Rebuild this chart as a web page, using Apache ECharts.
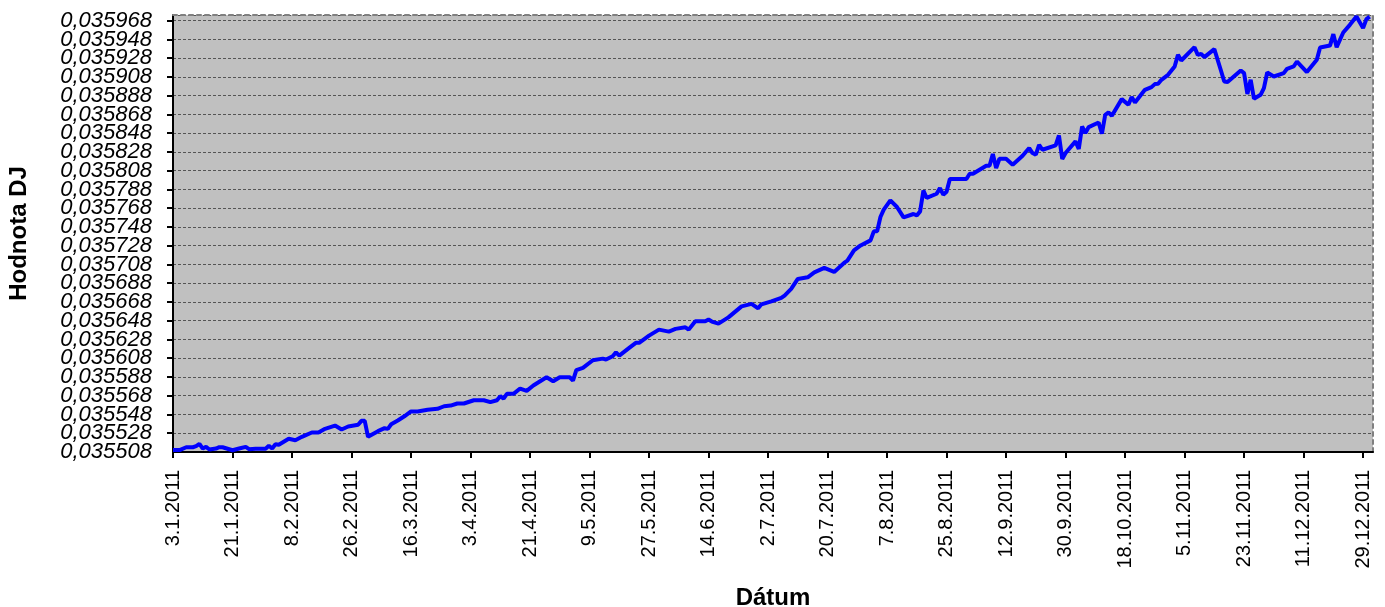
<!DOCTYPE html>
<html>
<head>
<meta charset="utf-8">
<script src="https://cdn.jsdelivr.net/npm/echarts@6/dist/echarts.min.js"></script>
<style>
html,body{margin:0;padding:0;background:#fff;}
#chart{width:1385px;height:607px;}
</style>
</head>
<body>
<div id="chart"></div>
<script>
// ---- data ----
const dates = [
 "3.1.2011","5.1.2011","7.1.2011","9.1.2011","10.1.2011","11.1.2011","12.1.2011","13.1.2011","14.1.2011","16.1.2011",
 "17.1.2011","18.1.2011","21.1.2011","23.1.2011","25.1.2011","26.1.2011","28.1.2011","31.1.2011","1.2.2011","2.2.2011",
 "3.2.2011","4.2.2011","7.2.2011","9.2.2011","11.2.2011","14.2.2011","16.2.2011","18.2.2011","21.2.2011","23.2.2011",
 "25.2.2011","28.2.2011","1.3.2011","2.3.2011","3.3.2011","6.3.2011","8.3.2011","9.3.2011","10.3.2011","12.3.2011",
 "14.3.2011","16.3.2011","18.3.2011","21.3.2011","24.3.2011","26.3.2011","28.3.2011","30.3.2011","1.4.2011","4.4.2011",
 "7.4.2011","9.4.2011","11.4.2011","12.4.2011","13.4.2011","14.4.2011","16.4.2011","18.4.2011","20.4.2011","22.4.2011",
 "26.4.2011","28.4.2011","30.4.2011","3.5.2011","4.5.2011","5.5.2011","7.5.2011","10.5.2011","13.5.2011","14.5.2011",
 "16.5.2011","17.5.2011","18.5.2011","21.5.2011","23.5.2011","24.5.2011","27.5.2011","30.5.2011","2.6.2011","4.6.2011",
 "7.6.2011","8.6.2011","10.6.2011","13.6.2011","14.6.2011","15.6.2011","17.6.2011","20.6.2011","24.6.2011","27.6.2011",
 "29.6.2011","30.6.2011","3.7.2011","6.7.2011","7.7.2011","9.7.2011","11.7.2011","14.7.2011","16.7.2011","19.7.2011",
 "22.7.2011","25.7.2011","26.7.2011","28.7.2011","30.7.2011","2.8.2011","3.8.2011","4.8.2011","5.8.2011","6.8.2011",
 "8.8.2011","10.8.2011","12.8.2011","15.8.2011","16.8.2011","17.8.2011","18.8.2011","19.8.2011","22.8.2011","23.8.2011",
 "24.8.2011","25.8.2011","26.8.2011","31.8.2011","1.9.2011","2.9.2011","6.9.2011","7.9.2011","8.9.2011","9.9.2011",
 "10.9.2011","12.9.2011","14.9.2011","17.9.2011","19.9.2011","20.9.2011","21.9.2011","22.9.2011","23.9.2011","27.9.2011",
 "28.9.2011","29.9.2011","30.9.2011","3.10.2011","4.10.2011","5.10.2011","6.10.2011","7.10.2011","10.10.2011","11.10.2011",
 "12.10.2011","13.10.2011","14.10.2011","17.10.2011","19.10.2011","20.10.2011","21.10.2011","24.10.2011","26.10.2011","27.10.2011",
 "28.10.2011","29.10.2011","31.10.2011","2.11.2011","3.11.2011","4.11.2011","8.11.2011","9.11.2011","10.11.2011","11.11.2011",
 "14.11.2011","16.11.2011","17.11.2011","18.11.2011","22.11.2011","23.11.2011","24.11.2011","25.11.2011","26.11.2011","28.11.2011",
 "29.11.2011","30.11.2011","2.12.2011","5.12.2011","6.12.2011","8.12.2011","9.12.2011","12.12.2011","15.12.2011","16.12.2011",
 "19.12.2011","20.12.2011","21.12.2011","23.12.2011","25.12.2011","27.12.2011","29.12.2011","30.12.2011","31.12.2011"
];
const values = [
 0.0355100,0.0355100,0.0355131,0.0355131,0.0355142,0.0355167,0.0355117,0.0355135,0.0355107,0.0355117,
 0.0355131,0.0355131,0.0355099,0.0355117,0.0355135,0.0355110,0.0355114,0.0355114,0.0355146,0.0355117,
 0.0355163,0.0355157,0.0355221,0.0355206,0.0355242,0.0355288,0.0355288,0.0355327,0.0355362,0.0355320,
 0.0355352,0.0355370,0.0355412,0.0355412,0.0355242,0.0355302,0.0355334,0.0355327,0.0355376,0.0355416,
 0.0355461,0.0355512,0.0355512,0.0355530,0.0355540,0.0355568,0.0355575,0.0355597,0.0355597,0.0355632,
 0.0355632,0.0355611,0.0355632,0.0355675,0.0355650,0.0355700,0.0355700,0.0355757,0.0355732,0.0355789,
 0.0355877,0.0355834,0.0355877,0.0355877,0.0355842,0.0355952,0.0355977,0.0356058,0.0356076,0.0356066,
 0.0356101,0.0356143,0.0356108,0.0356190,0.0356244,0.0356244,0.0356321,0.0356385,0.0356364,0.0356393,
 0.0356410,0.0356385,0.0356474,0.0356474,0.0356492,0.0356471,0.0356449,0.0356516,0.0356633,0.0356659,
 0.0356612,0.0356655,0.0356687,0.0356723,0.0356748,0.0356819,0.0356925,0.0356943,0.0356996,0.0357043,
 0.0357000,0.0357096,0.0357120,0.0357230,0.0357283,0.0357337,0.0357433,0.0357433,0.0357586,0.0357664,
 0.0357763,0.0357693,0.0357582,0.0357618,0.0357603,0.0357646,0.0357869,0.0357789,0.0357834,0.0357895,
 0.0357824,0.0357856,0.0357991,0.0357991,0.0358047,0.0358047,0.0358133,0.0358133,0.0358257,0.0358108,
 0.0358207,0.0358207,0.0358143,0.0358239,0.0358321,0.0358268,0.0358250,0.0358356,0.0358303,0.0358349,
 0.0358455,0.0358204,0.0358268,0.0358392,0.0358311,0.0358551,0.0358481,0.0358545,0.0358594,0.0358474,
 0.0358676,0.0358701,0.0358665,0.0358843,0.0358783,0.0358865,0.0358807,0.0358942,0.0358971,0.0359003,
 0.0359006,0.0359049,0.0359102,0.0359191,0.0359315,0.0359255,0.0359397,0.0359315,0.0359326,0.0359291,
 0.0359376,0.0359148,0.0359031,0.0359025,0.0359148,0.0359120,0.0358897,0.0359049,0.0358847,0.0358889,
 0.0358961,0.0359127,0.0359084,0.0359120,0.0359166,0.0359191,0.0359244,0.0359131,0.0359262,0.0359393,
 0.0359414,0.0359536,0.0359397,0.0359553,0.0359635,0.0359723,0.0359600,0.0359696,0.0359723
];
const startDate = "3.1.2011";
const endDate = "1.1.2012";
const dayStep = 18;
const yMin = 0.035508, yMax = 0.035974, yStep = 0.00002;
const xTitle = "Dátum";
const yTitle = "Hodnota DJ";

// ---- helpers ----
function parseDate(s){ const p = s.split('.').map(Number); return Date.UTC(p[2], p[1]-1, p[0]); }
const DAY = 86400000;
const t0 = parseDate(startDate);
const dayOf = s => Math.round((parseDate(s) - t0) / DAY);
function fmtDay(d){ const dt = new Date(t0 + d*DAY); return dt.getUTCDate() + '.' + (dt.getUTCMonth()+1) + '.' + dt.getUTCFullYear(); }
const fmtY = v => v.toFixed(6).replace('.', ',');
const xMax = dayOf(endDate);
const tickDays = [];
for (let d = 0; d <= xMax - 1; d += dayStep) tickDays.push(d);
const seriesData = dates.map((s,i) => [dayOf(s), values[i]]);

const FONT = '"Liberation Sans", Arial, sans-serif';
const yLabelStyle = { margin: 21, fontFamily: FONT, fontSize: 22, fontStyle: 'italic', color: '#000' };
const chart = echarts.init(document.getElementById('chart'), null, {renderer:'canvas'});
chart.setOption({
  animation: false,
  backgroundColor: '#ffffff',
  grid: { left: 173, right: 12, top: 15, bottom: 155, show: true, backgroundColor: '#c0c0c0', borderWidth: 0,
          containLabel: false, outerBoundsMode: 'none' },
  xAxis: [{
    type: 'value', min: 0, max: xMax, interval: dayStep,
    name: xTitle, nameLocation: 'middle', nameGap: 134, nameMoveOverlap: false,
    nameTextStyle: { fontFamily: FONT, fontSize: 24, fontWeight: 'bold', color: '#000' },
    axisLine: { show: true, onZero: false, lineStyle: { color: '#000', width: 2 } },
    axisTick: { show: true, length: 6, lineStyle: { color: '#000', width: 2 }, customValues: tickDays },
    axisLabel: { rotate: 90, margin: 18, fontFamily: FONT, fontSize: 20, color: '#000',
                 customValues: tickDays, formatter: v => fmtDay(v) },
    splitLine: { show: false }
  },{
    type: 'value', min: 0, max: xMax, position: 'top',
    axisLine: { show: true, onZero: false, lineStyle: { color: '#808080', width: 2, type: [4,4] } },
    axisTick: { show: false }, axisLabel: { show: false }, splitLine: { show: false }
  }],
  yAxis: [{
    type: 'value', min: yMin, max: yMax, interval: yStep,
    name: yTitle, nameLocation: 'middle', nameGap: 142, nameMoveOverlap: false,
    nameTextStyle: { fontFamily: FONT, fontSize: 24, fontWeight: 'bold', color: '#000' },
    axisLine: { show: true, onZero: false, lineStyle: { color: '#000', width: 2 } },
    axisTick: { show: true, length: 6, lineStyle: { color: '#000', width: 2 } },
    axisLabel: Object.assign({ showMinLabel: false, showMaxLabel: false, hideOverlap: false, formatter: fmtY }, yLabelStyle),
    splitLine: { show: true, lineStyle: { color: '#555555', width: 1, type: [3,2] } }
  },{
    type: 'value', min: yMin, max: yMax, position: 'right',
    axisLine: { show: true, onZero: false, lineStyle: { color: '#808080', width: 2, type: [4,4] } },
    axisTick: { show: false }, axisLabel: { show: false }, splitLine: { show: false }
  },{
    // carries only the bottom (minimum) tick label
    type: 'value', min: yMin, max: yMax, position: 'left',
    axisLine: { show: false }, axisTick: { show: false }, splitLine: { show: false },
    axisLabel: Object.assign({ customValues: [yMin], showMinLabel: true, formatter: fmtY }, yLabelStyle)
  }],
  series: [{
    type: 'line', xAxisIndex: 0, yAxisIndex: 0,
    data: seriesData, showSymbol: false, symbol: 'none',
    lineStyle: { color: '#0000ff', width: 4 }, clip: false
  }]
});
</script>
</body>
</html>
